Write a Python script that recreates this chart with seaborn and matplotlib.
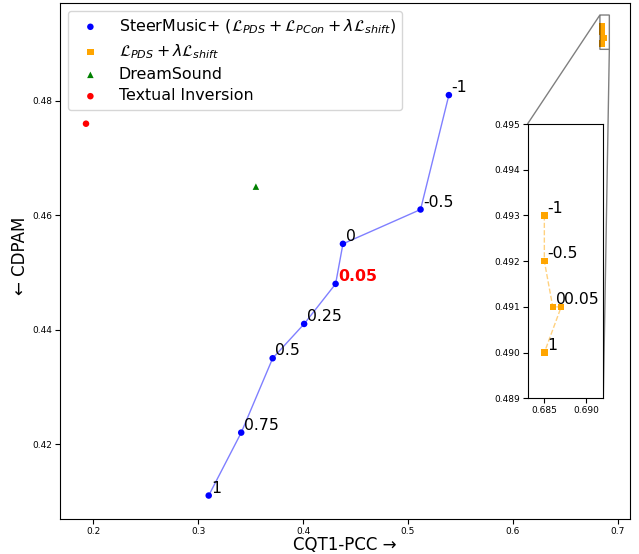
import matplotlib
matplotlib.use("Agg")
import matplotlib.pyplot as plt
import seaborn as sns
import pandas as pd

# SteerMusic+ (lambda sweep)
steer_labels = ["-1", "-0.5", "0", "0.05", "0.25", "0.5", "0.75", "1"]
steer_pcc = [0.539, 0.512, 0.438, 0.431, 0.401, 0.371, 0.341, 0.310]
steer_cdpam = [0.481, 0.461, 0.455, 0.448, 0.441, 0.435, 0.422, 0.411]

# L_PDS + lambda L_shift
pds_labels = ["-1", "-0.5", "0", "0.05", "1"]
pds_pcc = [0.685, 0.685, 0.686, 0.687, 0.685]
pds_cdpam = [0.493, 0.492, 0.491, 0.491, 0.490]

# Baselines
dream_pcc = [0.355]
dream_cdpam = [0.465]
ti_pcc = [0.193]
ti_cdpam = [0.476]

x_ticks = [0.2, 0.3, 0.4, 0.5, 0.6, 0.7]
y_ticks = [0.42, 0.44, 0.46, 0.48]
inset_xticks = [0.685, 0.690]
inset_yticks = [0.489, 0.490, 0.491, 0.492, 0.493, 0.494, 0.495]

steer_df = pd.DataFrame({"pcc": steer_pcc, "cdpam": steer_cdpam, "lab": steer_labels})
pds_df = pd.DataFrame({"pcc": pds_pcc, "cdpam": pds_cdpam, "lab": pds_labels})

fig = plt.figure(figsize=(6.39, 5.54), dpi=100)
ax = fig.add_axes([60.3 / 639, 1 - 519 / 554, (630 - 60.3) / 639, (519 - 3) / 554])

steer_label = r"SteerMusic+ ($\mathcal{L}_{PDS} + \mathcal{L}_{PCon} + \lambda\mathcal{L}_{shift}$)"
pds_label = r"$\mathcal{L}_{PDS} + \lambda\mathcal{L}_{shift}$"


def draw(a, legend_labels=True):
    sns.lineplot(data=steer_df, x="pcc", y="cdpam", sort=False, estimator=None,
                 color="blue", alpha=0.5, linewidth=1, ax=a, legend=False)
    sns.lineplot(data=pds_df, x="pcc", y="cdpam", sort=False, estimator=None,
                 color="orange", alpha=0.5, linewidth=1, linestyle="--", ax=a, legend=False)
    sns.scatterplot(data=steer_df, x="pcc", y="cdpam", color="blue", marker="o", s=22,
                    edgecolor="none", ax=a, label=steer_label if legend_labels else None, zorder=3)
    sns.scatterplot(data=pds_df, x="pcc", y="cdpam", color="orange", marker="s", s=22,
                    edgecolor="none", ax=a, label=pds_label if legend_labels else None, zorder=3)
    sns.scatterplot(x=dream_pcc, y=dream_cdpam, color="green", marker="^", s=22,
                    edgecolor="none", ax=a, label="DreamSound" if legend_labels else None, zorder=3)
    sns.scatterplot(x=ti_pcc, y=ti_cdpam, color="red", marker="o", s=22,
                    edgecolor="none", ax=a, label="Textual Inversion" if legend_labels else None, zorder=3)


draw(ax)
for x, y, lab in zip(steer_pcc, steer_cdpam, steer_labels):
    if lab == "0.05":
        ax.annotate(lab, (x, y), xytext=(2, 2), textcoords="offset points",
                    fontsize=11.3, color="red", fontweight="bold")
    else:
        ax.annotate(lab, (x, y), xytext=(2, 2), textcoords="offset points", fontsize=11.3)

ax.set_xlim(0.1685, 0.7117)
ax.set_ylim(0.4069, 0.4971)
ax.set_xticks(x_ticks)
ax.set_xticklabels([f"{v:g}" for v in x_ticks])
ax.set_yticks(y_ticks)
ax.set_yticklabels([f"{v:g}" for v in y_ticks])
ax.tick_params(labelsize=6.5, pad=2)
ax.set_xlabel("CQT1-PCC →", fontsize=12, labelpad=0)
ax.set_ylabel("← CDPAM", fontsize=12, labelpad=1)
ax.yaxis.set_label_coords(-0.055, 0.51)
ax.legend(loc="upper left", fontsize=11.4, borderaxespad=0.5, labelspacing=0.4)

# inset
axins = fig.add_axes([527.5 / 639, 1 - 398.3 / 554, 75.8 / 639, 274.3 / 554])
draw(axins, legend_labels=False)
for x, y, lab in zip(pds_pcc, pds_cdpam, pds_labels):
    axins.annotate(lab, (x, y), xytext=(2, 2), textcoords="offset points", fontsize=11.3)
axins.set_xlim(0.683, 0.692)
axins.set_ylim(0.489, 0.495)
axins.set_xticks(inset_xticks)
axins.set_xticklabels(["0.685", "0.690"])
axins.set_yticks(inset_yticks)
axins.set_yticklabels([f"{v:.3f}" for v in inset_yticks])
axins.tick_params(labelsize=6.5, pad=2)
axins.set_xlabel("")
axins.set_ylabel("")
ax.indicate_inset_zoom(axins, edgecolor="black")

fig.savefig("out.png", dpi=100)
